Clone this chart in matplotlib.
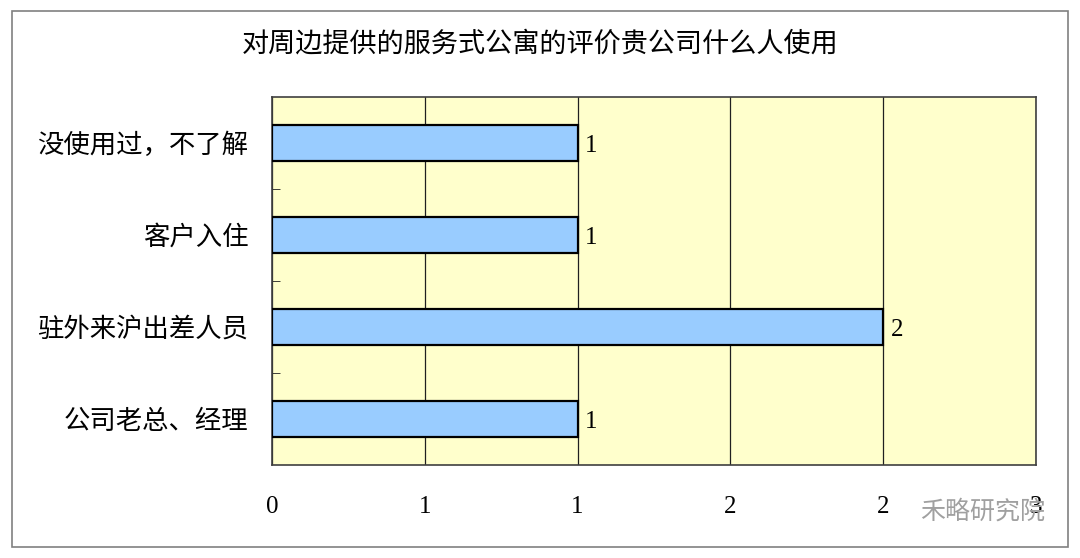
import matplotlib.pyplot as plt
from matplotlib.patches import Rectangle

plt.rcParams["font.family"] = ["Liberation Serif", "Noto Sans CJK SC", "DejaVu Sans"]

title = "对周边提供的服务式公寓的评价贵公司什么人使用"
categories = ["没使用过，不了解", "客户入住", "驻外来沪出差人员", "公司老总、经理"]
values = [1, 1, 2, 1]
x_ticks = [0, 0.5, 1, 1.5, 2, 2.5]
x_tick_labels = ["0", "1", "1", "2", "2", "3"]

fig = plt.figure(figsize=(10.8, 5.58), dpi=100)
fig.patches.append(Rectangle((12 / 1080, 11 / 558), 1056 / 1080, 536 / 558,
                             transform=fig.transFigure, fill=False,
                             edgecolor="#808080", linewidth=1.2))

ax = fig.add_axes([272 / 1080, 1 - 465 / 558, 764 / 1080, 368 / 558])
ax.set_facecolor("#FFFFCC")

ypos = list(range(len(categories)))
ax.barh(ypos, values, height=0.4, color="#99CCFF", edgecolor="black",
        linewidth=1.6, zorder=3)
for y, v in zip(ypos, values):
    ax.text(v + 0.025, y + 0.03, str(v), va="center", ha="left", fontsize=18, zorder=4)

ax.set_xlim(0, 2.5)
ax.set_ylim(len(categories) - 0.5, -0.5)
ax.set_xticks(x_ticks)
ax.set_xticklabels(x_tick_labels, fontsize=18)
ax.tick_params(axis="x", length=0, pad=22)
ax.xaxis.grid(True, color="#202020", linewidth=0.9, zorder=1)

ax.set_yticks(ypos)
ax.set_yticklabels(categories, fontsize=19)
ax.tick_params(axis="y", length=0, pad=17)
ax.set_yticks([y + 0.5 for y in ypos[:-1]], minor=True)
ax.tick_params(axis="y", which="minor", direction="in", length=6, color="#202020")

for s in ax.spines.values():
    s.set_color("#404040")
    s.set_linewidth(1.2)

fig.text(0.5, 1 - 45 / 558, title, ha="center", va="center", fontsize=19.5)
fig.text(1045 / 1080, 1 - 512 / 558, "禾略研究院", ha="right", va="center",
         fontsize=18, color="#a0a0a0", zorder=5)

fig.savefig("out.png", dpi=100)
